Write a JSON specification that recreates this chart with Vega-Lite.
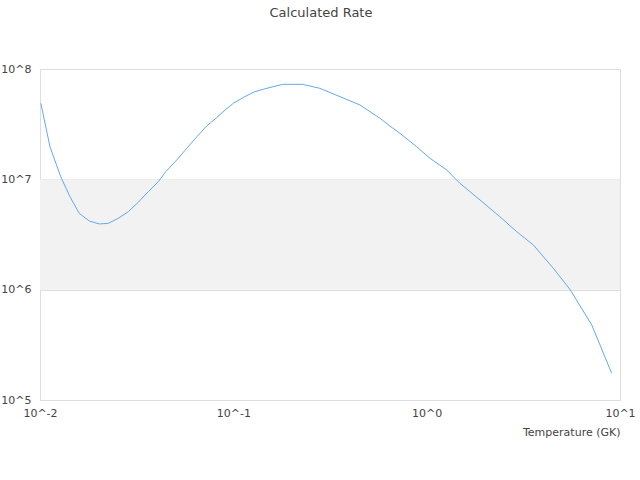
{
  "$schema": "https://vega.github.io/schema/vega-lite/v6.json",
  "description": "Calculated rate vs temperature, log-log",
  "autosize": {"type": "none"},
  "padding": {"left": 40, "top": 69, "right": 20, "bottom": 80},
  "width": 580,
  "height": 331,
  "title": {"text": "Calculated Rate", "offset": 43, "dx": -9, "fontSize": 13, "fontWeight": "normal", "color": "#444"},
  "config": {
    "font": "DejaVu Sans",
    "view": {"stroke": "#ddd"},
    "axis": {"labelColor": "#444", "labelFontSize": 11, "titleColor": "#444", "titleFontSize": 11, "titleFontWeight": "normal", "ticks": false, "gridColor": "#ddd", "domainColor": "#ddd"}
  },
  "datasets": {
    "band": [{"lo": 1000000, "hi": 10000000}],
    "rate": [
      {"T": 0.0101, "R": 48900000},
      {"T": 0.01127, "R": 19630000},
      {"T": 0.0128, "R": 10570000},
      {"T": 0.01429, "R": 6950000},
      {"T": 0.01596, "R": 4920000},
      {"T": 0.01799, "R": 4190000},
      {"T": 0.02028, "R": 3940000},
      {"T": 0.02254, "R": 3990000},
      {"T": 0.02541, "R": 4440000},
      {"T": 0.02864, "R": 5090000},
      {"T": 0.03221, "R": 6190000},
      {"T": 0.03631, "R": 7730000},
      {"T": 0.04093, "R": 9530000},
      {"T": 0.04467, "R": 11720000},
      {"T": 0.05093, "R": 14960000},
      {"T": 0.05741, "R": 19100000},
      {"T": 0.06471, "R": 24320000},
      {"T": 0.07278, "R": 30410000},
      {"T": 0.08128, "R": 35730000},
      {"T": 0.09057, "R": 42460000},
      {"T": 0.1, "R": 48900000},
      {"T": 0.1127, "R": 55300000},
      {"T": 0.128, "R": 61900000},
      {"T": 0.1429, "R": 65500000},
      {"T": 0.161, "R": 69200000},
      {"T": 0.1799, "R": 72600000},
      {"T": 0.2042, "R": 72600000},
      {"T": 0.2286, "R": 72600000},
      {"T": 0.2805, "R": 66800000},
      {"T": 0.3565, "R": 56100000},
      {"T": 0.4519, "R": 47200000},
      {"T": 0.5741, "R": 35700000},
      {"T": 0.6457, "R": 30400000},
      {"T": 0.7278, "R": 26100000},
      {"T": 0.887, "R": 19770000},
      {"T": 1.04, "R": 15520000},
      {"T": 1.27, "R": 12160000},
      {"T": 1.486, "R": 9200000},
      {"T": 1.888, "R": 6500000},
      {"T": 2.393, "R": 4580000},
      {"T": 2.924, "R": 3350000},
      {"T": 3.565, "R": 2540000},
      {"T": 4.519, "R": 1563000},
      {"T": 5.508, "R": 1007000},
      {"T": 7.145, "R": 479000},
      {"T": 9.057, "R": 174600}
    ]
  },
  "layer": [
    {
      "data": {"name": "band"},
      "mark": {"type": "rect", "color": "#f2f2f2"},
      "encoding": {
        "y": {"field": "lo", "type": "quantitative", "scale": {"type": "log", "domain": [100000, 100000000]}},
        "y2": {"field": "hi"}
      }
    },
    {
      "data": {"name": "rate"},
      "mark": {"type": "line", "color": "#64a8f0", "strokeWidth": 1},
      "encoding": {
        "x": {
          "field": "T", "type": "quantitative", "title": "Temperature (GK)",
          "scale": {"type": "log", "domain": [0.01, 10]},
          "axis": {"values": [0.01, 0.1, 1, 10], "grid": false, "labelFlush": false, "labelBound": false, "labelOverlap": false, "labelPadding": 7, "titleAnchor": "end", "titlePadding": 8, "labelExpr": "'10^' + round(log(datum.value) / LN10)"}
        },
        "y": {
          "field": "R", "type": "quantitative", "title": null,
          "scale": {"type": "log", "domain": [100000, 100000000]},
          "axis": {"values": [100000, 1000000, 10000000, 100000000], "labelPadding": 9, "domain": false, "labelExpr": "'10^' + round(log(datum.value) / LN10)"}
        }
      }
    }
  ]
}
